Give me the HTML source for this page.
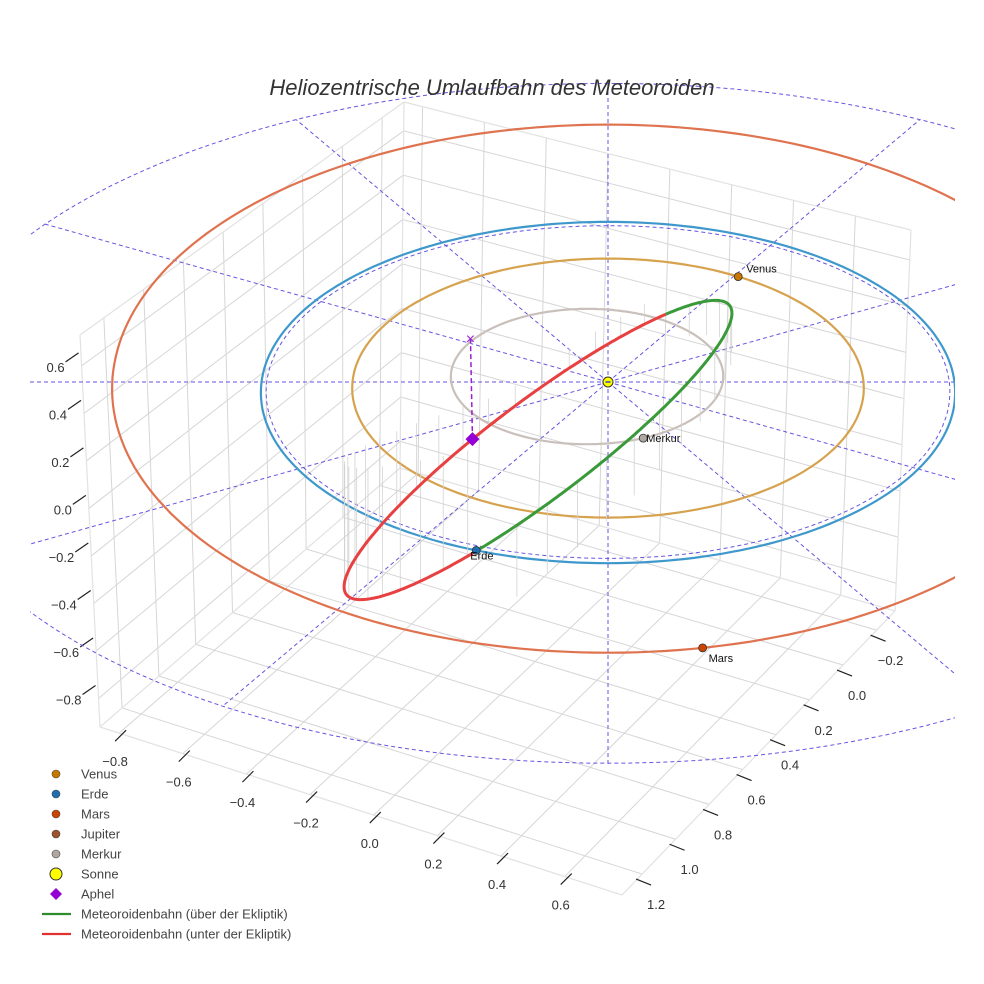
<!DOCTYPE html>
<html><head><meta charset="utf-8"><style>
html,body{margin:0;padding:0;background:#fff}
svg{display:block;font-family:"Liberation Sans",sans-serif}
</style></head><body>
<svg id="c" width="984" height="984" viewBox="0 0 984 984" xmlns="http://www.w3.org/2000/svg">
<defs><clipPath id="clipPlot"><rect x="30" y="0" width="925" height="984"/></clipPath></defs>
<rect width="984" height="984" fill="#fff"/>
<g id="grid"></g>
<g id="ticks"></g>
<g id="plot" clip-path="url(#clipPlot)"></g>
<text x="492" y="95" text-anchor="middle" font-size="22" font-style="italic" fill="#333">Heliozentrische Umlaufbahn des Meteoroiden</text>
<g id="legend"></g>
</svg>
<script>
// ---- data ----
const xTicks = [-0.8,-0.6,-0.4,-0.2,0.0,0.2,0.4,0.6];
const yTicks = [-0.2,0.0,0.2,0.4,0.6,0.8,1.0,1.2];
const zTicks = [-0.8,-0.6,-0.4,-0.2,0.0,0.2,0.4,0.6];
const planetNames = ["Merkur","Venus","Erde","Mars"];
const orbitRu = [0.39,0.73,0.99,1.42];
const orbitRw = [0.40,0.76,1.0,1.56];
const orbitCu = [-0.06,0,0,0];
const orbitCw = [-0.042,0,0,-0.11];
const planetAngle = [66,-58,111,80];
const spokeAngles = [0,30,60,90,120,150,180,210,240,270,300,330];
const refRadius = 1.97;
const aphelAngle = 259;
const aphelZ = 0.42;
const legendLabels = ["Venus","Erde","Mars","Jupiter","Merkur","Sonne","Aphel","Meteoroidenbahn (über der Ekliptik)","Meteoroidenbahn (unter der Ekliptik)"];

const NS="http://www.w3.org/2000/svg";
function mk(tag,attrs,parent){const e=document.createElementNS(NS,tag);for(const k in attrs)e.setAttribute(k,attrs[k]);parent.appendChild(e);return e;}
const grid=document.getElementById('grid'),ticks=document.getElementById('ticks'),plot=document.getElementById('plot'),legend=document.getElementById('legend');

// ---- box axes (bilinear) ----
const X0=-0.86,X1=0.78,Y0=-0.31,Y1=1.32,Z0=-0.92,Z1=0.73;
const cB=[400,468],cR=[895,611],cF=[622,895],cL=[100,727],cBt=[404,102],cRt=[911,230],cLt=[80,335];
function lerp(a,b,t){return [a[0]+(b[0]-a[0])*t,a[1]+(b[1]-a[1])*t];}
function floorPt(x,y){const s=(x-X0)/(X1-X0),t=(y-Y0)/(Y1-Y0);const p=lerp(cB,cR,s),q=lerp(cL,cF,s);return lerp(p,q,t);}
function wallX(y,z){const t=(y-Y0)/(Y1-Y0),s=(z-Z0)/(Z1-Z0);return lerp(lerp(cB,cL,t),lerp(cBt,cLt,t),s);}
function wallY(x,z){const t=(x-X0)/(X1-X0),s=(z-Z0)/(Z1-Z0);return lerp(lerp(cB,cR,t),lerp(cBt,cRt,t),s);}
function line(p,q,attrs,parent){return mk('line',Object.assign({x1:p[0],y1:p[1],x2:q[0],y2:q[1]},attrs),parent);}
const gA={stroke:'#d6d6d6','stroke-width':1};
xTicks.forEach(x=>{const l=line(floorPt(x,Y0),floorPt(x,Y1),gA,grid);

const v=line(wallY(x,Z0),wallY(x,Z1),gA,grid);
});
yTicks.forEach(y=>{const l=line(floorPt(X0,y),floorPt(X1,y),gA,grid);

const v=line(wallX(y,Z0),wallX(y,Z1),gA,grid);
});
zTicks.forEach(z=>{const a=line(wallX(Y1,z),wallX(Y0,z),gA,grid);

const b=line(wallY(X0,z),wallY(X1,z),gA,grid);
});
[[cB,cR],[cB,cL],[cL,cF],[cF,cR],[cB,cBt],[cL,cLt],[cR,cRt],[cBt,cLt],[cBt,cRt]].forEach(e=>{const l=line(e[0],e[1],{stroke:'#e2e2e2','stroke-width':1.2},grid);
});

// ticks
const tA={stroke:'#222','stroke-width':1.2};
xTicks.forEach(x=>{const p=floorPt(x,Y1);const l=line([p[0]-4,p[1]+8],[p[0]+7,p[1]-3],tA,ticks);

const t=mk('text',{x:p[0]-4,y:p[1]+33,'text-anchor':'middle','font-size':13,fill:'#333'},ticks);t.textContent=x.toFixed(1).replace('-','−');
});
yTicks.forEach(y=>{const p=floorPt(X1,y);const l=line([p[0]-6,p[1]+5],[p[0]+9,p[1]+11],tA,ticks);

const t=mk('text',{x:p[0]+14,y:p[1]+35,'text-anchor':'middle','font-size':13,fill:'#333'},ticks);t.textContent=y.toFixed(1).replace('-','−');
});
zTicks.forEach(z=>{const p=wallX(Y1,z);const l=line([p[0]-16,p[1]-4],[p[0]-3,p[1]-13],tA,ticks);

const t=mk('text',{x:p[0]-17,y:p[1]+6,'text-anchor':'end','font-size':13,fill:'#333'},ticks);t.textContent=z.toFixed(1).replace('-','−');
});

// ---- ecliptic plane projection ----
const SX=608,SY=382,KS=350,KT=170,KP=0.0617;
function P(u,w){const d=1-KP*w;return [SX+KS*u/d,SY+KT*w/d];}
function ringPath(cu,cw,ru,rw){let s='';for(let i=0;i<=240;i++){const a=i/240*2*Math.PI;const p=P(cu+ru*Math.cos(a),cw+rw*Math.sin(a));s+=(i?'L':'M')+p[0].toFixed(1)+' '+p[1].toFixed(1);}return s+'Z';}
const dash={fill:'none',stroke:'#6655e0','stroke-width':1,'stroke-dasharray':'4 3'};
let rc=mk('path',Object.assign({d:ringPath(0,0,refRadius,refRadius)},dash),plot);

spokeAngles.forEach(a=>{const r=a*Math.PI/180;const p=P(refRadius*Math.cos(r),refRadius*Math.sin(r));const l=line([SX,SY],p,dash,plot);
});
let ed=mk('path',Object.assign({d:ringPath(0,0,0.975,0.975)},dash),plot);

const orbitColors=['#c9c0bb','#d6a24e','#3f98cc','#e0734f'];
const planetColors=['#b0a8a0','#c87800','#1f6fb0','#cc4400'];
planetNames.forEach((n,i)=>{const o=mk('path',{d:ringPath(orbitCu[i],orbitCw[i],orbitRu[i],orbitRw[i]),fill:'none',stroke:orbitColors[i],'stroke-width':2.2},plot);
});

// ---- meteoroid orbit (screen-space ellipse) ----
const metCenter=[538,450],metA=240,metB=49,metRot=-37;
const splitStart=-40,splitEnd=117;
function metPt(t){const r=metRot*Math.PI/180,a=t*Math.PI/180;const u=metA*Math.cos(a),v=metB*Math.sin(a);return [metCenter[0]+u*Math.cos(r)-v*Math.sin(r),metCenter[1]+u*Math.sin(r)+v*Math.cos(r)];}
function arc(t0,t1){let s='';const n=160;for(let i=0;i<=n;i++){const p=metPt(t0+(t1-t0)*i/n);s+=(i?'L':'M')+p[0].toFixed(1)+' '+p[1].toFixed(1);}return s;}
for(let t=120;t<320;t+=8){const p=metPt(t);const h=Math.max(20,(p[1]-380)*0.6);const l=line(p,[p[0],p[1]-h],{stroke:'#d2d2d2','stroke-width':0.8},plot);
}
for(let t=-30;t<110;t+=9){const p=metPt(t);const l=line(p,[p[0],p[1]+40+t*0.3],{stroke:'#d2d2d2','stroke-width':0.8},plot);
}
let red=mk('path',{d:arc(splitEnd,360+splitStart),fill:'none',stroke:'#e84040','stroke-width':3},plot);

let grn=mk('path',{d:arc(splitStart,splitEnd),fill:'none',stroke:'#3a9a3a','stroke-width':3},plot);


// aphel
const aph=metPt(aphelAngle);
const aphTop=[aph[0]-2,aph[1]-aphelZ*238];
let al=line(aph,aphTop,{stroke:'#9a1fd0','stroke-width':1.5,'stroke-dasharray':'5 3'},plot);

let ax=mk('text',{x:aphTop[0],y:aphTop[1]+5,'text-anchor':'middle','font-size':16,fill:'#9a1fd0'},plot);ax.textContent='×';

let ad=mk('path',{d:`M${aph[0]} ${aph[1]-7}L${aph[0]+7} ${aph[1]}L${aph[0]} ${aph[1]+7}L${aph[0]-7} ${aph[1]}Z`,fill:'#9400d3'},plot);


// planets
const labelOff=[[3,4],[8,-4],[-6,9],[6,14]];
planetNames.forEach((n,i)=>{const a=planetAngle[i]*Math.PI/180;const p=P(orbitCu[i]+orbitRu[i]*Math.cos(a),orbitCw[i]+orbitRw[i]*Math.sin(a));
const c=mk('circle',{cx:p[0],cy:p[1],r:4,fill:planetColors[i],stroke:'#333','stroke-width':0.8},plot);

const t=mk('text',{x:p[0]+labelOff[i][0],y:p[1]+labelOff[i][1],'font-size':11,fill:'#111'},plot);t.textContent=n;
});
let sun=mk('circle',{cx:SX,cy:SY,r:5,fill:'#ffff00',stroke:'#333','stroke-width':1},plot);

let sd=line([SX-2.5,SY],[SX+2.5,SY],{stroke:'#3344aa','stroke-width':1.5},plot);


// ---- legend ----
const legColors=['#c87800','#1f6fb0','#cc4400','#a0522d','#b0a8a0','#ffff00','#9400d3','#2e8b2e','#e03030'];
legendLabels.forEach((lab,i)=>{const y=774+i*20;
const g=mk('g',{},legend);
if(i<5){mk('circle',{cx:56,cy:y,r:4,fill:legColors[i],stroke:'#444','stroke-width':0.6},g);}
else if(i===5){mk('circle',{cx:56,cy:y,r:6,fill:legColors[i],stroke:'#333','stroke-width':1},g);}
else if(i===6){mk('path',{d:`M56 ${y-6}L62 ${y}L56 ${y+6}L50 ${y}Z`,fill:legColors[i]},g);}
else{mk('line',{x1:42,y1:y,x2:71,y2:y,stroke:legColors[i],'stroke-width':2.2},g);}
const t=mk('text',{x:81,y:y+4.5,'font-size':13,fill:'#444'},g);t.textContent=lab;});
</script>
</body></html>
